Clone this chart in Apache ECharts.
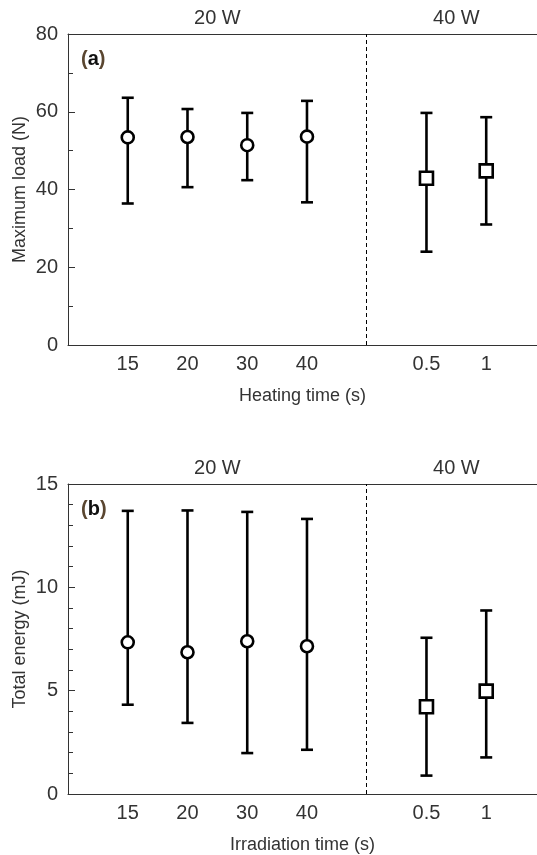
<!DOCTYPE html>
<html><head><meta charset="utf-8">
<script src="https://cdn.jsdelivr.net/npm/echarts@6/dist/echarts.min.js"></script>
<style>html,body{margin:0;padding:0;background:#fff}#c{width:537px;height:855px}</style>
</head><body><div id="c"></div>
<script>
// ---- data ----
const times20 = ['15', '20', '30', '40'];
const times40 = ['0.5', '1'];
const powerLabels = ['20 W', '40 W'];
const loadMean = [53.4, 53.5, 51.4, 53.6, 42.9, 44.8];
const loadLow  = [36.4, 40.6, 42.4, 36.7, 24.0, 31.0];
const loadHigh = [63.6, 60.7, 59.7, 62.8, 59.7, 58.6];
const energyMean = [7.34, 6.86, 7.39, 7.15, 4.22, 4.98];
const energyLow  = [4.32, 3.44, 1.98, 2.14, 0.89, 1.77];
const energyHigh = [13.70, 13.72, 13.65, 13.31, 7.56, 8.88];
const loadTicks = [0, 20, 40, 60, 80];
const energyTicks = [0, 5, 10, 15];

// ---- derived slot positions on the category-like value axis ----
const n20 = times20.length, n40 = times40.length;
const xs = times20.map((_, i) => i + 1).concat(times40.map((_, j) => n20 + 2 + j));
const divider = n20 + 1;
const center20 = (1 + n20) / 2;
const center40 = (xs[n20] + xs[xs.length - 1]) / 2;
const allLabels = times20.concat(times40);
const xMax = xs[xs.length - 1] + 0.85;

const FONT = "'Liberation Sans', Arial, sans-serif";
const TXT = '#333';

function bottomFmt(v) {
  const k = xs.findIndex(p => Math.abs(p - v) < 1e-6);
  return k >= 0 ? allLabels[k] : '';
}
function topFmt(v) {
  if (Math.abs(v - center20) < 1e-6) return powerLabels[0];
  if (Math.abs(v - center40) < 1e-6) return powerLabels[1];
  return '';
}

function xAxes(gi, name) {
  return [{
    type: 'value', gridIndex: gi, position: 'bottom', min: 0, max: xMax, interval: 0.5,
    axisLine: { show: true, onZero: false, lineStyle: { color: TXT, width: 1 } },
    axisTick: { show: false }, splitLine: { show: false },
    axisLabel: { formatter: bottomFmt, fontSize: 20, color: TXT, fontFamily: FONT, margin: 9, showMinLabel: true, showMaxLabel: false },
    name: name, nameLocation: 'middle', nameGap: 42, nameMoveOverlap: false,
    nameTextStyle: { fontSize: 18, color: TXT, fontFamily: FONT }
  }, {
    type: 'value', gridIndex: gi, position: 'top', min: 0, max: xMax, interval: 0.5,
    axisLine: { show: true, onZero: false, lineStyle: { color: TXT, width: 1 } },
    axisTick: { show: false }, splitLine: { show: false },
    axisLabel: { formatter: topFmt, fontSize: 20, color: TXT, fontFamily: FONT, margin: 6, showMaxLabel: false }
  }];
}

function yAxis(gi, ticks, minorSplit, name) {
  return {
    type: 'value', gridIndex: gi, min: ticks[0], max: ticks[ticks.length - 1],
    interval: ticks[1] - ticks[0],
    axisLine: { show: true, onZero: false, lineStyle: { color: TXT, width: 1 } },
    axisTick: { show: true, inside: true, length: 7, lineStyle: { color: TXT } },
    minorTick: { show: true, splitNumber: minorSplit, length: 5, lineStyle: { color: TXT } },
    splitLine: { show: false },
    axisLabel: { fontSize: 20, color: TXT, fontFamily: FONT, margin: 10 },
    name: name, nameLocation: 'middle', nameGap: 39, nameMoveOverlap: false,
    nameTextStyle: { fontSize: 18, color: TXT, fontFamily: FONT }
  };
}

function errSeries(xi, yi, low, high) {
  return {
    type: 'custom', xAxisIndex: xi, yAxisIndex: yi, z: 2,
    data: xs.map((x, i) => [x, low[i], high[i]]),
    encode: { x: 0, y: [1, 2] },
    renderItem: function (params, api) {
      const x = api.value(0);
      const a = api.coord([x, api.value(1)]);
      const b = api.coord([x, api.value(2)]);
      const w = 6, st = { stroke: '#000', lineWidth: 2.6 };
      return { type: 'group', children: [
        { type: 'line', shape: { x1: a[0], y1: a[1], x2: b[0], y2: b[1] }, style: st },
        { type: 'line', shape: { x1: a[0] - w, y1: a[1], x2: a[0] + w, y2: a[1] }, style: st },
        { type: 'line', shape: { x1: b[0] - w, y1: b[1], x2: b[0] + w, y2: b[1] }, style: st }
      ] };
    }
  };
}

function markerSeries(xi, yi, mean, symbol, idx, withDivider) {
  const s = {
    type: 'scatter', xAxisIndex: xi, yAxisIndex: yi, z: 5,
    symbol: symbol, symbolSize: symbol === 'rect' ? 13 : 12,
    itemStyle: { color: '#fff', borderColor: '#000', borderWidth: 2.6, opacity: 1 },
    data: idx.map(i => [xs[i], mean[i]])
  };
  if (withDivider) {
    s.markLine = {
      silent: true, symbol: 'none', animation: false,
      lineStyle: { color: '#000', width: 1, type: [4, 3] },
      label: { show: false },
      data: [{ xAxis: divider }]
    };
  }
  return s;
}

const idx20 = times20.map((_, i) => i);
const idx40 = times40.map((_, j) => n20 + j);

const option = {
  animation: false,
  backgroundColor: '#fff',
  textStyle: { fontFamily: FONT },
  grid: [
    { left: 68, top: 34, right: 0, height: 311 },
    { left: 68, top: 484, right: 0, height: 312 }
  ],
  xAxis: xAxes(0, 'Heating time (s)').concat(xAxes(1, 'Irradiation time (s)')),
  yAxis: [yAxis(0, loadTicks, 2, 'Maximum load (N)'), yAxis(1, energyTicks, 5, 'Total energy (mJ)')],
  title: [
    { text: '{p|(}{b|a}{p|)}', left: 76, top: 44, textStyle: { rich: {
      p: { fontSize: 20, color: '#5a4630', fontFamily: FONT },
      b: { fontSize: 20, color: '#111', fontWeight: 'bold', fontFamily: FONT } } } },
    { text: '{p|(}{b|b}{p|)}', left: 76, top: 494, textStyle: { rich: {
      p: { fontSize: 20, color: '#5a4630', fontFamily: FONT },
      b: { fontSize: 20, color: '#111', fontWeight: 'bold', fontFamily: FONT } } } }
  ],
  series: [
    errSeries(0, 0, loadLow, loadHigh),
    markerSeries(0, 0, loadMean, 'circle', idx20, true),
    markerSeries(0, 0, loadMean, 'rect', idx40, false),
    errSeries(2, 1, energyLow, energyHigh),
    markerSeries(2, 1, energyMean, 'circle', idx20, true),
    markerSeries(2, 1, energyMean, 'rect', idx40, false)
  ]
};
echarts.init(document.getElementById('c'), null, { renderer: 'canvas' }).setOption(option);
</script></body></html>
